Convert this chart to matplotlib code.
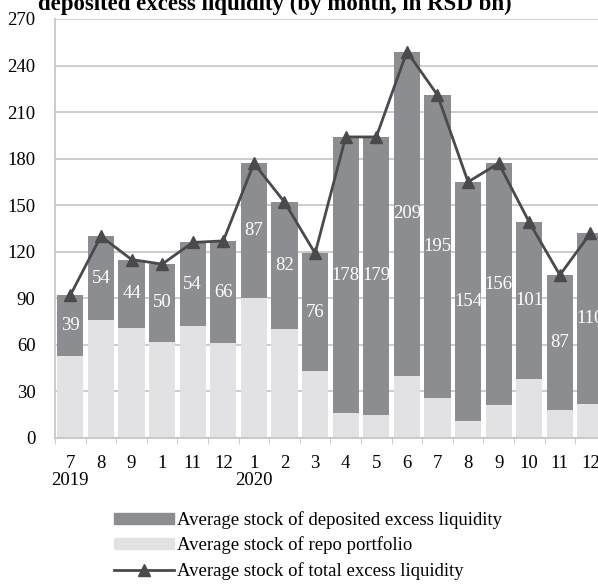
import matplotlib.pyplot as plt
import numpy as np
from matplotlib.patches import Patch
from matplotlib.lines import Line2D

months = ['7', '8', '9', '1', '11', '12', '1', '2', '3', '4', '5', '6',
          '7', '8', '9', '10', '11', '12']
years = {0: '2019', 6: '2020'}
repo = [53, 76, 71, 62, 72, 61, 90, 70, 43, 16, 15, 40, 26, 11, 21, 38, 18, 22]
deposited = [39, 54, 44, 50, 54, 66, 87, 82, 76, 178, 179, 209, 195, 154, 156, 101, 87, 110]
total = [r + d for r, d in zip(repo, deposited)]

plt.rcParams['font.family'] = ['Liberation Serif', 'DejaVu Serif']

dark = '#8c8d91'
light = '#e2e2e4'
line_c = '#4a4a4c'
grid_c = '#c4c4c4'

fig = plt.figure(figsize=(5.98, 5.86), dpi=100)
ax = fig.add_axes([0.092, 0.2526, 0.921, 0.715])

x = np.arange(len(months))
ax.bar(x, repo, width=0.86, color=light, zorder=2)
ax.bar(x, deposited, width=0.86, bottom=repo, color=dark, zorder=2)
ax.plot(x, total, color=line_c, lw=2, marker='^', ms=8, zorder=3)

# white value labels in the middle of the deposited segment
for i in range(len(x)):
    ax.text(x[i], repo[i] + deposited[i] / 2, str(deposited[i]), color='white',
            ha='center', va='center', fontsize=13.5, zorder=4)

ax.set_xlim(-0.5, len(x) - 0.5)
ax.set_ylim(0, 270)
ax.set_yticks(range(0, 271, 30))
ax.yaxis.grid(True, color=grid_c, lw=1.2, zorder=0)
ax.set_axisbelow(True)

labels = [m + ('\n' + years[i] if i in years else '') for i, m in enumerate(months)]
ax.set_xticks(x)
ax.set_xticklabels(labels, va='top', linespacing=1.0)
ax.set_xticks(np.arange(-0.5, len(x), 1), minor=True)
ax.tick_params(axis='x', which='major', length=0, pad=12, labelsize=13.5)
ax.tick_params(axis='x', which='minor', length=4, color=grid_c)
ax.tick_params(axis='y', length=0, pad=14, labelsize=13.5)
for lab in ax.get_xticklabels():
    lab.set_multialignment('center')

for s in ['top', 'right']:
    ax.spines[s].set_visible(False)
for s in ['left', 'bottom']:
    ax.spines[s].set_color(grid_c)
    ax.spines[s].set_linewidth(1.2)

fig.text(0.46, 0.983, 'deposited excess liquidity (by month, in RSD bn)',
         ha='center', va='baseline', fontsize=16.5, fontweight='bold')

handles = [Patch(color=dark), Patch(color=light),
           Line2D([0], [0], color=line_c, lw=2, marker='^', ms=8)]
names = ['Average stock of deposited excess liquidity',
         'Average stock of repo portfolio',
         'Average stock of total excess liquidity']
fig.legend(handles, names, loc='upper left', bbox_to_anchor=(0.19, 0.128),
           frameon=False, fontsize=13.5, handlelength=3.2, handleheight=0.5,
           labelspacing=0.4, handletextpad=0.2, borderaxespad=0, borderpad=0)

fig.savefig('out.png', dpi=100)
